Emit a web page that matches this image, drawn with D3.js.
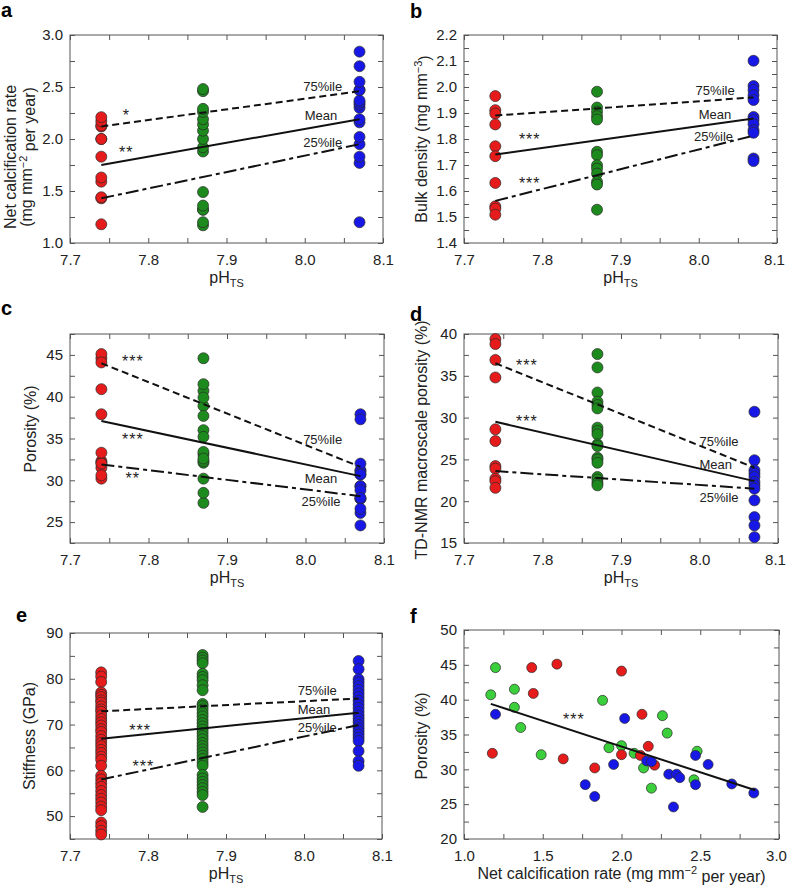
<!DOCTYPE html>
<html>
<head>
<meta charset="utf-8">
<script src="https://cdn.jsdelivr.net/npm/d3@7"></script>
<style>
    body { margin: 0; background: #fff; }
    svg text { font-family: "Liberation Sans", Arial, Helvetica, sans-serif; fill: #222; }
</style>
</head>
<body>
<script>
// treatment pH (x position of every sample column)
var phLevels = [7.74, 7.87, 8.07];

// net calcification rate and porosity, same sample order per treatment
var calcRed = [1.18, 1.43, 1.44, 1.59, 1.63, 1.83, 2.00, 2.00, 2.12, 2.13, 2.17, 2.21];
var poroRed = [32.3, 44.6, 40.9, 45.1, 31.5, 30.2, 44.1, 32.1, 32.0, 37.9, 33.3, 30.6];
var calcGreen = [1.17, 1.20, 1.32, 1.32, 1.36, 1.49, 1.88, 1.92, 2.00, 2.08, 2.14, 2.19, 2.26, 2.29, 2.46, 2.48];
var poroGreen = [40.7, 44.6, 41.5, 38.9, 36.0, 32.1, 39.9, 33.1, 33.4, 32.3, 30.2, 27.3, 37.7, 35.2, 28.5, 32.6];
var calcBlue = [1.20, 1.77, 1.83, 1.95, 2.02, 2.16, 2.19, 2.30, 2.33, 2.35, 2.37, 2.47, 2.47, 2.55, 2.70, 2.84];
var poroBlue = [37.9, 27.8, 26.1, 30.7, 37.3, 31.2, 31.1, 29.3, 24.6, 29.3, 28.8, 32.0, 27.8, 30.7, 27.9, 26.6];

// bulk density (mg mm-3)
var densRed = [1.965, 1.911, 1.898, 1.856, 1.772, 1.734, 1.631, 1.541, 1.532, 1.509];
var densGreen = [1.982, 1.921, 1.905, 1.888, 1.875, 1.751, 1.738, 1.699, 1.686, 1.667, 1.635, 1.625, 1.528];
var densBlue = [2.101, 2.004, 1.988, 1.969, 1.950, 1.885, 1.873, 1.857, 1.834, 1.824, 1.725, 1.715];

// TD-NMR macroscale porosity (%)
var nmrRed = [39.4, 38.8, 36.9, 34.8, 28.6, 27.2, 24.2, 23.9, 22.7, 22.4, 21.6];
var nmrGreen = [37.6, 36.0, 33.0, 31.9, 31.5, 31.1, 28.8, 28.4, 28.0, 26.8, 26.6, 25.2, 25.0, 24.6, 22.9, 22.6, 22.2, 21.9];
var nmrBlue = [30.7, 24.9, 23.7, 23.3, 22.9, 22.3, 21.9, 21.5, 20.1, 18.1, 17.1, 15.7];

// stiffness (GPa)
var stiffRed = [81.4, 80.5, 79.3, 77.0, 76.5, 76.0, 75.3, 74.8, 74.0, 73.3, 72.8, 72.0, 71.2, 70.5, 69.8,
    69.0, 68.4, 67.5, 66.7, 66.0, 65.3, 64.5, 63.8, 63.0, 62.3, 61.0, 58.8, 58.0, 57.2, 56.4, 55.5, 54.6,
    53.8, 53.0, 52.1, 51.3, 48.6, 47.8, 46.8, 46.0];
var stiffGreen = [85.2, 84.6, 84.0, 83.4, 81.1, 80.4, 79.7, 78.6, 77.5, 74.5, 74.0, 73.3, 72.5, 71.8, 71.0,
    70.3, 69.6, 68.9, 68.2, 67.5, 66.8, 66.0, 65.3, 64.6, 63.9, 63.2, 62.5, 61.7, 61.0, 59.0, 58.2, 57.5,
    56.8, 56.1, 55.3, 54.6, 52.0];
var stiffBlue = [83.9, 82.1, 79.9, 79.2, 78.4, 77.6, 76.8, 76.0, 75.2, 74.4, 73.6, 72.8, 72.0, 71.3, 70.6,
    69.9, 69.2, 68.5, 67.8, 67.1, 66.4, 64.2, 62.0, 61.0];

// fitted lines at pH 7.74 and 8.07: 75%ile, mean, 25%ile
var calcTrend = [[2.12, 2.46], [1.75, 2.19], [1.43, 1.95]];
var densTrend = [[1.89, 1.96], [1.74, 1.879], [1.562, 1.813]];
var poroTrend = [[44.0, 31.6], [37.1, 30.5], [31.9, 28.1]];
var nmrTrend = [[36.5, 24.0], [29.5, 22.4], [23.6, 21.5]];
var stiffTrend = [[72.9, 75.7], [66.9, 72.6], [58.0, 69.9]];

// porosity vs calcification fit (panel f)
var fitCalc = [1.17, 2.85];
var fitPoro = [39.4, 27.0];

var trendNames = ["75%ile", "Mean", "25%ile"];
var trendDash = ["7,4", null, "13,4,4,4"];

var red = "#e61c1c", green = "#1c8a1c", lime = "#3ccf3c", blue = "#1818e6";
var frameColor = "#555";

var svg = d3.select("body").append("svg")
    .attr("width", 788)
    .attr("height", 885);

function steps(lo, hi, step) {
    var n = Math.round((hi - lo) / step);
    return d3.range(n + 1).map(function (i) {
        return +(lo + i * step).toFixed(6);
    });
}

function onStep(v, step) {
    var r = v / step;
    return Math.abs(r - Math.round(r)) < 1e-6;
}

function styleAxis(g, size) {
    g.select(".domain").remove();
    g.selectAll(".tick line").attr("stroke", frameColor);
    g.selectAll("text").attr("font-size", size).attr("font-family", null).style("fill", "#222");
}

function drawPanel(p) {
    var x = d3.scaleLinear().domain(p.xDomain).range([p.left, p.left + p.width]);
    var y = d3.scaleLinear().domain(p.yDomain).range([p.top + p.height, p.top]);
    var g = svg.append("g").attr("class", "panel");

    var xt = steps(p.xDomain[0], p.xDomain[1], p.xStep);
    var yt = steps(p.yDomain[0], p.yDomain[1], p.yStep);
    var xf = d3.format(p.xFormat), yf = d3.format(p.yFormat);

    // ticks point inward on all four sides
    var bottom = g.append("g").attr("transform", "translate(0," + (p.top + p.height) + ")")
        .call(d3.axisBottom(x).tickValues(xt).tickSizeInner(-5).tickSizeOuter(0).tickPadding(11)
            .tickFormat(function (d) { return onStep(d, p.xLabelStep) ? xf(d) : ""; }))
        .call(styleAxis, 15);
    // keep the last label inside the window
    bottom.selectAll(".tick text").filter(function (d) { return x(d) > 770; }).attr("dx", -3);

    g.append("g").attr("transform", "translate(0," + p.top + ")")
        .call(d3.axisTop(x).tickValues(xt).tickSizeInner(-5).tickSizeOuter(0).tickFormat(""))
        .call(styleAxis, 15);
    g.append("g").attr("transform", "translate(" + p.left + ",0)")
        .call(d3.axisLeft(y).tickValues(yt).tickSizeInner(-5).tickSizeOuter(0).tickPadding(7)
            .tickFormat(function (d) { return onStep(d, p.yLabelStep) ? yf(d) : ""; }))
        .call(styleAxis, 15);
    g.append("g").attr("transform", "translate(" + (p.left + p.width) + ",0)")
        .call(d3.axisRight(y).tickValues(yt).tickSizeInner(-5).tickSizeOuter(0).tickFormat(""))
        .call(styleAxis, 15);

    g.append("rect")
        .attr("x", p.left).attr("y", p.top)
        .attr("width", p.width).attr("height", p.height)
        .attr("fill", "none").attr("stroke", frameColor).attr("stroke-width", 1);

    // points
    p.groups.forEach(function (grp) {
        g.append("g").selectAll("circle")
            .data(grp.ys.map(function (v, i) { return [grp.xs ? grp.xs[i] : grp.x, v]; }))
            .enter().append("circle")
            .attr("cx", function (d) { return x(d[0]); })
            .attr("cy", function (d) { return y(d[1]); })
            .attr("r", p.r)
            .attr("fill", grp.color)
            .attr("stroke", "#2a2a2a")
            .attr("stroke-width", 0.7);
    });

    // fitted lines
    var line = d3.line().x(function (d) { return x(d[0]); }).y(function (d) { return y(d[1]); });
    (p.lines || []).forEach(function (ln) {
        g.append("path")
            .attr("d", line(ln.pts))
            .attr("fill", "none")
            .attr("stroke", "#111")
            .attr("stroke-width", 2)
            .attr("stroke-dasharray", ln.dash);
    });

    (p.notes || []).forEach(function (n) {
        g.append("text")
            .attr("x", x(n[1])).attr("y", y(n[2]))
            .attr("font-size", 13)
            .text(n[0]);
    });
    (p.stars || []).forEach(function (s) {
        g.append("text")
            .attr("x", x(s[1])).attr("y", y(s[2]))
            .attr("text-anchor", "middle")
            .attr("font-size", 16)
            .attr("letter-spacing", 1)
            .text(s[0]);
    });

    // panel letter
    svg.append("text")
        .attr("x", p.letterPos[0]).attr("y", p.letterPos[1])
        .attr("font-size", 20).attr("font-weight", "bold")
        .style("fill", "#000")
        .text(p.letter);

    // x title
    var xt2 = svg.append("text")
        .attr("x", p.left + p.width / 2)
        .attr("y", p.top + p.height + 40)
        .attr("text-anchor", "middle")
        .attr("font-size", 16);
    p.xTitle.forEach(function (part) {
        xt2.append("tspan").attr("font-size", part[1]).attr("dy", part[2]).text(part[0]);
    });

    // y title (one or two lines)
    p.yTitle.forEach(function (lineParts, i) {
        var t = svg.append("text")
            .attr("transform", "translate(" + (p.yTitleX + i * 16) + "," + p.yTitleY + ") rotate(-90)")
            .attr("text-anchor", "middle")
            .attr("font-size", 16);
        lineParts.forEach(function (part) {
            t.append("tspan").attr("font-size", part[1]).attr("dy", part[2]).text(part[0]);
        });
    });
}

function phGroups(r, g, b) {
    return [
        {x: phLevels[0], ys: r, color: red},
        {x: phLevels[1], ys: g, color: green},
        {x: phLevels[2], ys: b, color: blue}
    ];
}

function phLines(trend) {
    return trend.map(function (t, i) {
        return {pts: [[phLevels[0], t[0]], [phLevels[2], t[1]]], dash: trendDash[i]};
    });
}

function phNotes(ys, xs) {
    return trendNames.map(function (n, i) { return [n, xs[i], ys[i]]; });
}

var phTitle = [["pH", 16, 0], ["TS", 11, "0.4em"]];

var phAxis = {xDomain: [7.7, 8.1], xStep: 0.05, xLabelStep: 0.1, xFormat: ".1f", xTitle: phTitle, r: 5.5};

drawPanel(Object.assign({}, phAxis, {
    letter: "a", letterPos: [1, 17],
    left: 70, top: 35, width: 313, height: 208,
    yDomain: [1, 3], yStep: 0.25, yLabelStep: 0.5, yFormat: ".1f",
    groups: phGroups(calcRed, calcGreen, calcBlue),
    lines: phLines(calcTrend),
    notes: phNotes([2.46, 2.18, 1.92], [7.998, 8.0, 7.998]),
    stars: [["*", 7.772, 2.17], ["**", 7.772, 1.82]],
    yTitle: [[["Net calcification rate", 16, 0]],
        [["(mg mm", 16, 0], ["\u22122", 11, "-0.5em"], [" per year)", 16, "0.5em"]]],
    yTitleX: 16, yTitleY: 157
}));

drawPanel(Object.assign({}, phAxis, {
    letter: "b", letterPos: [410, 18],
    left: 464, top: 35, width: 313, height: 208,
    yDomain: [1.4, 2.2], yStep: 0.05, yLabelStep: 0.1, yFormat: ".1f",
    groups: phGroups(densRed, densGreen, densBlue),
    lines: phLines(densTrend),
    notes: phNotes([1.969, 1.877, 1.792], [7.996, 8.0, 7.994]),
    stars: [["***", 7.784, 1.777], ["***", 7.784, 1.608]],
    yTitle: [[["Bulk density (mg mm", 16, 0], ["\u22123", 11, "-0.5em"], [")", 16, "0.5em"]]],
    yTitleX: 427, yTitleY: 139
}));

drawPanel(Object.assign({}, phAxis, {
    letter: "c", letterPos: [1, 315],
    left: 70, top: 334, width: 314, height: 209,
    yDomain: [22.5, 47.5], yStep: 2.5, yLabelStep: 5, yFormat: "d",
    groups: phGroups(poroRed, poroGreen, poroBlue),
    lines: phLines(poroTrend),
    notes: phNotes([34.3, 29.7, 26.9], [7.997, 7.999, 7.995]),
    stars: [["***", 7.78, 43.5], ["***", 7.78, 34.2], ["**", 7.78, 29.6]],
    yTitle: [[["Porosity (%)", 16, 0]]],
    yTitleX: 36, yTitleY: 429
}));

drawPanel(Object.assign({}, phAxis, {
    letter: "d", letterPos: [410, 321],
    left: 464, top: 334, width: 314, height: 209,
    yDomain: [15, 40], yStep: 2.5, yLabelStep: 5, yFormat: "d",
    groups: phGroups(nmrRed, nmrGreen, nmrBlue),
    lines: phLines(nmrTrend),
    notes: phNotes([26.6, 23.9, 19.9], [8.0, 8.0, 8.0]),
    stars: [["***", 7.78, 35.6], ["***", 7.78, 28.9]],
    yTitle: [[["TD-NMR macroscale porosity (%)", 16, 0]]],
    yTitleX: 427, yTitleY: 440
}));

drawPanel(Object.assign({}, phAxis, {
    letter: "e", letterPos: [16, 622],
    left: 70, top: 633, width: 312, height: 206,
    yDomain: [45, 90], yStep: 5, yLabelStep: 10, yFormat: "d",
    groups: phGroups(stiffRed, stiffGreen, stiffBlue),
    lines: phLines(stiffTrend),
    notes: phNotes([76.5, 72.2, 68.4], [7.992, 7.992, 7.992]),
    stars: [["***", 7.79, 67.6], ["***", 7.794, 59.7]],
    yTitle: [[["Stiffness (GPa)", 16, 0]]],
    yTitleX: 35, yTitleY: 736
}));

drawPanel({
    letter: "f", letterPos: [410, 623],
    left: 464, top: 630, width: 315, height: 209,
    xDomain: [1, 3], xStep: 0.25, xLabelStep: 0.5, xFormat: ".1f",
    yDomain: [20, 50], yStep: 2.5, yLabelStep: 5, yFormat: "d",
    r: 5,
    groups: [
        {xs: calcGreen, ys: poroGreen, color: lime},
        {xs: calcRed, ys: poroRed, color: red},
        {xs: calcBlue, ys: poroBlue, color: blue}
    ],
    lines: [{pts: [[fitCalc[0], fitPoro[0]], [fitCalc[1], fitPoro[1]]], dash: null}],
    stars: [["***", 1.698, 36.4]],
    xTitle: [["Net calcification rate (mg mm", 16, 0], ["\u22122", 11, "-0.5em"], [" per year)", 16, "0.5em"]],
    yTitle: [[["Porosity (%)", 16, 0]]],
    yTitleX: 427, yTitleY: 736
});
</script>
</body>
</html>
